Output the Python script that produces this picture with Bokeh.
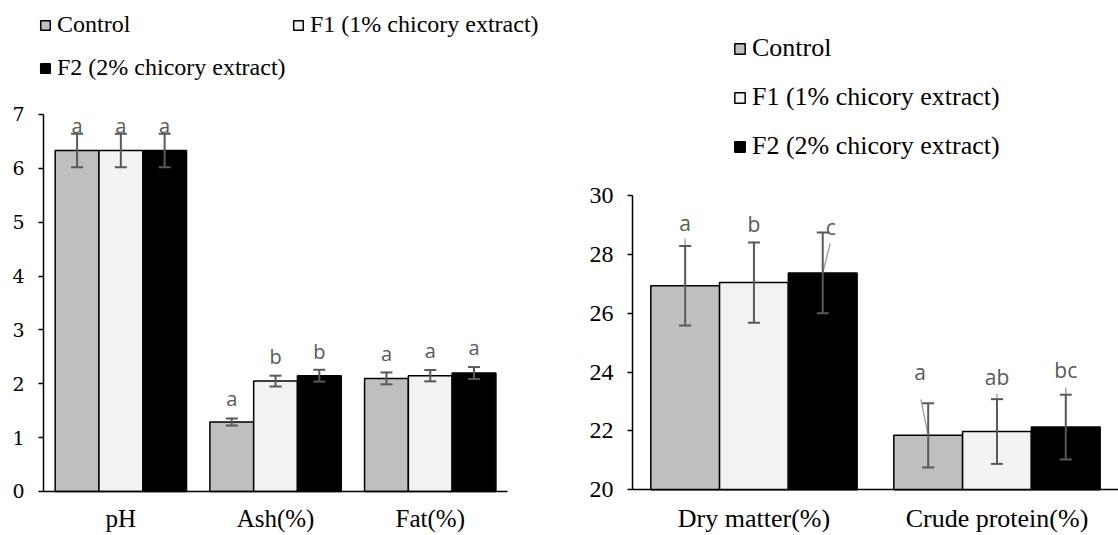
from bokeh.plotting import figure
from bokeh.models import (ColumnDataSource, Range1d, Whisker, TeeHead,
                          Legend, LegendItem, FixedTicker)
from bokeh.layouts import row
from bokeh.core.properties import value
from bokeh.embed import file_html
from bokeh.resources import INLINE

# ---------------- data ----------------
series_names = ["Control", "F1 (1% chicory extract)", "F2 (2% chicory extract)"]
series_colors = ["#BFBFBF", "#F2F2F2", "#000000"]

left_cats = ["pH", "Ash(%)", "Fat(%)"]
left_ticks = [0, 1, 2, 3, 4, 5, 6, 7]
left_control = [6.33, 1.29, 2.10]
left_f1 = [6.33, 2.05, 2.15]
left_f2 = [6.33, 2.15, 2.20]
left_err_control = [0.31, 0.065, 0.11]
left_err_f1 = [0.31, 0.10, 0.105]
left_err_f2 = [0.31, 0.11, 0.11]
left_letters_control = ["a", "a", "a"]
left_letters_f1 = ["a", "b", "a"]
left_letters_f2 = ["a", "b", "a"]
left_letter_y_control = [6.80, 1.73, 2.56]
left_letter_y_f1 = [6.80, 2.51, 2.62]
left_letter_y_f2 = [6.80, 2.60, 2.67]

right_cats = ["Dry matter(%)", "Crude protein(%)"]
right_ticks = [20, 22, 24, 26, 28, 30]
right_control = [26.93, 21.85]
right_f1 = [27.04, 21.98]
right_f2 = [27.37, 22.13]
right_err_control = [1.35, 1.09]
right_err_f1 = [1.36, 1.10]
right_err_f2 = [1.37, 1.10]
right_letters_control = ["a", "a"]
right_letters_f1 = ["b", "ab"]
right_letters_f2 = ["c", "bc"]
right_letter_y_control = [29.06, 24.00]
right_letter_y_f1 = [29.04, 23.83]
right_letter_y_f2 = [28.92, 24.08]
right_leader_top_control = [28.53, 23.07]
right_leader_top_f1 = [28.44, 23.27]
right_leader_top_f2 = [28.37, 23.48]

# ---------------- style ----------------
BAR_W = 0.283
OFFSETS = [-BAR_W, 0.0, BAR_W]
ERR_COLOR = "#595959"
LETTER_COLOR = "#595959"
LEADER_COLOR = "#A6A6A6"


def style_axes(p, cats, ticks, tick_font, tick_size, cat_size):
    p.grid.visible = False
    p.outline_line_color = None
    n = len(cats)
    p.yaxis.fixed_location = -0.5
    p.yaxis.ticker = FixedTicker(ticks=ticks)
    p.yaxis.bounds = (ticks[0], ticks[-1])
    p.yaxis.minor_tick_line_color = None
    p.yaxis.major_tick_out = 5
    p.yaxis.major_tick_in = 0
    p.yaxis.major_label_standoff = 14
    p.yaxis.axis_line_width = 1.5
    p.yaxis.major_tick_line_width = 1.5
    p.yaxis.major_label_text_font = tick_font
    p.yaxis.major_label_text_font_size = tick_size
    p.yaxis.major_label_text_color = "black"
    p.xaxis.fixed_location = ticks[0]
    p.xaxis.ticker = FixedTicker(ticks=list(range(n)))
    p.xaxis.major_label_overrides = {i: c for i, c in enumerate(cats)}
    p.xaxis.bounds = (-0.5, n - 0.5)
    p.xaxis.axis_line_width = 1.5
    p.xaxis.major_tick_line_color = None
    p.xaxis.major_tick_out = 0
    p.xaxis.major_tick_in = 0
    p.xaxis.minor_tick_line_color = None
    p.xaxis.major_label_standoff = 14
    p.xaxis.major_label_text_font = "Liberation Serif"
    p.xaxis.major_label_text_font_size = cat_size
    p.xaxis.major_label_text_color = "black"


def draw(p, cats, vals, errs, letters, letter_y, bottom, letter_size,
         letter_dx=None, leaders=None):
    bars = []
    idx = list(range(len(cats)))
    for i in range(3):
        v = vals[i]
        e = errs[i]
        src = ColumnDataSource(dict(
            x=[k + OFFSETS[i] for k in idx], val=v,
            upper=[a + b for a, b in zip(v, e)],
            lower=[a - b for a, b in zip(v, e)],
            letter=letters[i], ly=letter_y[i],
            ldx=(letter_dx[i] if letter_dx else [0] * len(cats)),
        ))
        r = p.vbar(x="x", top="val", bottom=bottom, width=BAR_W, source=src,
                   fill_color=series_colors[i], line_color="black", line_width=1.5)
        bars.append(r)
        if leaders:
            tops, dxs = leaders[i]
            lsrc = ColumnDataSource(dict(
                x0=[k + OFFSETS[i] + d for k, d in zip(idx, dxs)], y0=tops,
                x1=[k + OFFSETS[i] for k in idx], y1=v))
            p.segment(x0="x0", y0="y0", x1="x1", y1="y1", source=lsrc,
                      line_color=LEADER_COLOR, line_width=1.5)
        w = Whisker(base="x", upper="upper", lower="lower", source=src,
                    level="annotation",
                    line_color=ERR_COLOR, line_width=2,
                    upper_head=TeeHead(size=12, line_color=ERR_COLOR, line_width=2),
                    lower_head=TeeHead(size=12, line_color=ERR_COLOR, line_width=2))
        p.add_layout(w)
        p.text(x="x", y="ly", text="letter", source=src, x_offset="ldx",
               text_font=value("Open Sans"), text_font_size=letter_size,
               text_color=LETTER_COLOR, text_align="center", text_baseline="middle")
    return bars


def add_legend(p, items, x, y, font, size, spacing=0, glyph=13):
    lg = Legend(items=items, location=(x, y), orientation="vertical",
                padding=0, margin=0, spacing=spacing, border_line_color=None,
                background_fill_alpha=0, glyph_width=glyph, glyph_height=glyph,
                label_standoff=6, label_height=26,
                label_text_font=font, label_text_font_size=size,
                label_text_color="black")
    p.add_layout(lg, "center")


# ---------------- left chart ----------------
p1 = figure(width=560, height=535, x_range=Range1d(-0.778, 2.842),
            y_range=Range1d(-0.817, 9.116), output_backend="svg", toolbar_location=None,
            min_border=0)
style_axes(p1, left_cats, left_ticks, "DejaVu Serif", "19px", "25px")
b1 = draw(p1, left_cats, [left_control, left_f1, left_f2],
          [left_err_control, left_err_f1, left_err_f2],
          [left_letters_control, left_letters_f1, left_letters_f2],
          [left_letter_y_control, left_letter_y_f1, left_letter_y_f2], 0, "20px")
add_legend(p1, [LegendItem(label=series_names[0], renderers=[b1[0]])], 39, 497,
           "Times New Roman", "24px", glyph=12)
add_legend(p1, [LegendItem(label=series_names[1], renderers=[b1[1]])], 292, 497,
           "Times New Roman", "24px", glyph=12)
add_legend(p1, [LegendItem(label=series_names[2], renderers=[b1[2]])], 39, 454,
           "Times New Roman", "24px", glyph=12)

# ---------------- right chart ----------------
p2 = figure(width=558, height=535, x_range=Range1d(-0.796, 1.5),
            y_range=Range1d(18.447, 36.626), output_backend="svg", toolbar_location=None,
            min_border=0)
style_axes(p2, right_cats, right_ticks, "Times New Roman", "24px", "26px")
b2 = draw(p2, right_cats, [right_control, right_f1, right_f2],
          [right_err_control, right_err_f1, right_err_f2],
          [right_letters_control, right_letters_f1, right_letters_f2],
          [right_letter_y_control, right_letter_y_f1, right_letter_y_f2], 20, "21px",
          letter_dx=[[0, -8], [0, 0], [8, 0]],
          leaders=[(right_leader_top_control, [0.0, -0.03]),
                   (right_leader_top_f1, [0.0, 0.0]),
                   (right_leader_top_f2, [0.031, 0.0])])
add_legend(p2, [LegendItem(label=series_names[k], renderers=[b2[k]]) for k in range(3)],
           173, 374, "Liberation Serif", "26px", spacing=19)

layout = row(p1, p2)
open("out.html", "w").write(file_html(layout, INLINE))
